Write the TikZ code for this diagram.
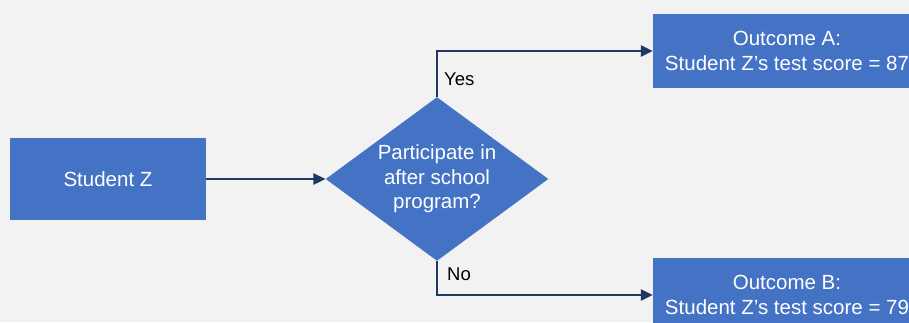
\documentclass[tikz,border=0pt]{standalone}
\usepackage{fontspec}
\setmainfont{Liberation Sans}
\usetikzlibrary{shapes.geometric,arrows.meta}
\definecolor{boxblue}{HTML}{4472C4}
\definecolor{linenavy}{HTML}{203864}
\definecolor{backgray}{HTML}{F2F2F2}

\begin{document}
\begin{tikzpicture}[x=1pt,y=-1pt,
  box/.style={rectangle,fill=boxblue,text=white,inner sep=0pt,align=center,
    font=\fontsize{20.5}{25}\selectfont},
  choice/.style={diamond,fill=boxblue,text=white,inner sep=0pt,align=center,
    aspect=1.36,minimum width=221pt,minimum height=162pt,
    font=\fontsize{20.5}{24.5}\selectfont},
  flow/.style={draw=linenavy,line width=2.4pt,-{Triangle[length=12pt,width=11pt]}},
  answer/.style={text=black,inner sep=6pt,font=\fontsize{18.5}{22}\selectfont}]
\useasboundingbox (0,0) rectangle (909,322);
\clip (0,0) rectangle (909,322);
\fill [backgray] (0,0) rectangle (909,322);
\node [box,minimum width=196pt,minimum height=82pt] (student) at (108,179) {Student Z};
\node [choice] (program) at (437,179) {\raisebox{-2pt}{\parbox{130pt}{\centering Participate in\\after school\\program?}}};
\node [box,minimum width=268pt,minimum height=74pt] (outA) at (787,51) {Outcome A:\\Student Z’s test score = 87};
\node [box,minimum width=268pt,minimum height=74pt] (outB) at (787,295) {Outcome B:\\Student Z’s test score = 79};
\draw [flow] (student.east) -- (program.west);
\draw [flow] (program.north) |- node [answer,pos=0.19,right] (yes) {Yes} (outA.west);
\draw [flow] (program.south) |- node [answer,pos=0.19,right,xshift=3pt] (no) {No} (outB.west);
\end{tikzpicture}
\end{document}
